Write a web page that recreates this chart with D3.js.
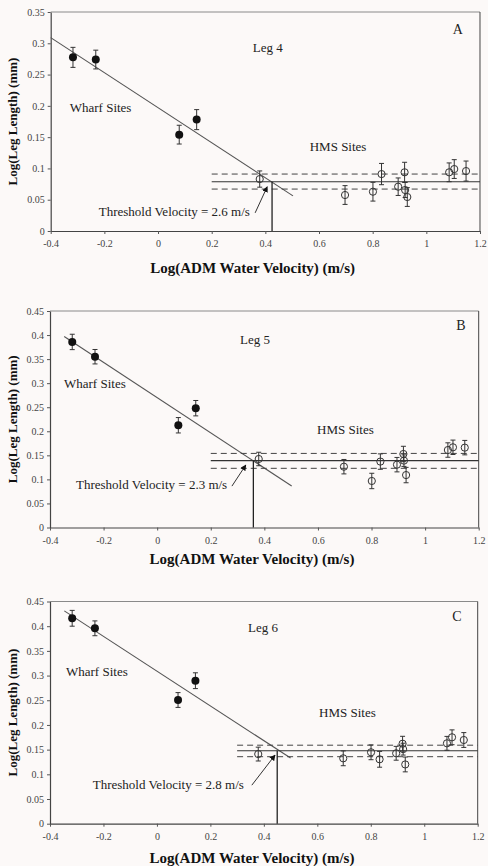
<!DOCTYPE html>
<html>
<head>
<meta charset="utf-8">
<script src="https://cdn.jsdelivr.net/npm/d3@7"></script>
<style>
  body { margin: 0; background: #fcf9f8; }
  text { font-family: 'Liberation Serif', 'Times New Roman', serif; }
</style>
</head>
<body>
<svg id="chart" width="488" height="866"></svg>
<script>
'use strict';

// shared x values (log water velocity) for the sites
let wharfX = [-0.317, -0.232, 0.079, 0.144];
let hmsX = [0.379, 0.697, 0.801, 0.833, 0.895, 0.919, 0.921, 0.929, 1.085, 1.104, 1.148];

let xTicks = [-0.4, -0.2, 0, 0.2, 0.4, 0.6, 0.8, 1, 1.2];
let xTickLabels = ['-0.4', '-0.2', '0', '0.2', '0.4', '0.6', '0.8', '1', '1.2'];
let yTicksA = [0, 0.05, 0.1, 0.15, 0.2, 0.25, 0.3, 0.35];
let yTicksBC = [0, 0.05, 0.1, 0.15, 0.2, 0.25, 0.3, 0.35, 0.4, 0.45];

// Leg 4
let leg4WharfY = [0.2775, 0.274, 0.154, 0.178];
let leg4WharfErr = [0.016, 0.015, 0.015, 0.016];
let leg4HmsY = [0.083, 0.0575, 0.0628, 0.091, 0.0708, 0.0938, 0.0655, 0.0543, 0.0938, 0.099, 0.0958];
let leg4HmsErr = [0.013, 0.015, 0.015, 0.017, 0.014, 0.016, 0.012, 0.015, 0.015, 0.015, 0.016];
let leg4Fit = [0.197, -0.28];           // intercept, slope
let leg4FitRange = [-0.4, 0.503];
let leg4Hms = [0.0788, 0.067, 0.091];   // mean, lower, upper
let leg4Threshold = 0.425;

// Leg 5
let leg5WharfY = [0.3857, 0.355, 0.2125, 0.248];
let leg5WharfErr = [0.016, 0.015, 0.016, 0.016];
let leg5HmsY = [0.1424, 0.1264, 0.0967, 0.137, 0.1306, 0.1528, 0.139, 0.109, 0.161, 0.1667, 0.166];
let leg5HmsErr = [0.014, 0.015, 0.016, 0.016, 0.015, 0.016, 0.012, 0.016, 0.015, 0.015, 0.015];
let leg5Fit = [0.27, -0.366];
let leg5FitRange = [-0.347, 0.502];
let leg5Hms = [0.139, 0.123, 0.154];
let leg5Threshold = 0.359;

// Leg 6
let leg6WharfY = [0.416, 0.3957, 0.2505, 0.2896];
let leg6WharfErr = [0.016, 0.015, 0.015, 0.016];
let leg6HmsY = [0.141, 0.1324, 0.1446, 0.1304, 0.1426, 0.162, 0.151, 0.120, 0.1628, 0.175, 0.1695];
let leg6HmsErr = [0.014, 0.015, 0.015, 0.016, 0.014, 0.015, 0.012, 0.015, 0.014, 0.015, 0.015];
let leg6Fit = [0.309, -0.352];
let leg6FitRange = [-0.3465, 0.5];
let leg6Hms = [0.1478, 0.1357, 0.159];
let leg6Threshold = 0.45;

let panels = [
    {
        box: [50.7, 12, 480, 231], yMax: 0.35, yTicks: yTicksA, titleGap: 39,
        wharfY: leg4WharfY, wharfErr: leg4WharfErr, hmsY: leg4HmsY, hmsErr: leg4HmsErr,
        fit: leg4Fit, fitRange: leg4FitRange, hms: leg4Hms, hmsStart: 0.2, threshold: leg4Threshold,
        leg: 'Leg 4', letter: 'A', thresholdText: 'Threshold Velocity = 2.6 m/s',
        // label offsets inside the plot box (px)
        legPos: [202, 40], letterPos: [407, 22], wharfPos: [19, 100], hmsPos: [259, 139], thrPos: [48, 204],
        arrow: [[0.362, 0.029], [0.407, 0.0708]]
    },
    {
        box: [50, 311, 478.7, 527.5], yMax: 0.45, yTicks: yTicksBC, titleGap: 33,
        wharfY: leg5WharfY, wharfErr: leg5WharfErr, hmsY: leg5HmsY, hmsErr: leg5HmsErr,
        fit: leg5Fit, fitRange: leg5FitRange, hms: leg5Hms, hmsStart: 0.2, threshold: leg5Threshold,
        leg: 'Leg 5', letter: 'B', thresholdText: 'Threshold Velocity = 2.3 m/s',
        legPos: [190, 33], letterPos: [411, 19], wharfPos: [14, 77], hmsPos: [267, 123], thrPos: [26, 178],
        arrow: [[0.279, 0.086], [0.331, 0.13]]
    },
    {
        box: [50, 601.5, 477.7, 823.7], yMax: 0.45, yTicks: yTicksBC, titleGap: 36,
        wharfY: leg6WharfY, wharfErr: leg6WharfErr, hmsY: leg6HmsY, hmsErr: leg6HmsErr,
        fit: leg6Fit, fitRange: leg6FitRange, hms: leg6Hms, hmsStart: 0.3, threshold: leg6Threshold,
        leg: 'Leg 6', letter: 'C', thresholdText: 'Threshold Velocity = 2.8 m/s',
        legPos: [198, 30.5], letterPos: [407, 19.5], wharfPos: [16, 74.5], hmsPos: [269, 115.5], thrPos: [42.7, 187.5],
        arrow: [[0.355, 0.078], [0.442, 0.139]]
    }
];

let svg = d3.select('#chart');

// arrow marker
svg.append('defs').append('marker')
    .attr('id', 'arrowhead')
    .attr('viewBox', '0 0 10 10')
    .attr('refX', 9)
    .attr('refY', 5)
    .attr('markerWidth', 6)
    .attr('markerHeight', 6)
    .attr('markerUnits', 'userSpaceOnUse')
    .attr('orient', 'auto')
    .append('path')
    .attr('d', 'M0,0 L10,5 L0,10 z')
    .attr('fill', '#111');

panels.forEach(function(p) {
    drawPanel(p);
});

/**
 * Draw one of the three scatter panels
 * @param {Object} p - panel config
 */
function drawPanel(p) {
    let left = p.box[0], top = p.box[1], right = p.box[2], bottom = p.box[3];
    let w = right - left, h = bottom - top;

    let x = d3.scaleLinear().domain([-0.4, 1.2]).range([0, w]);
    let y = d3.scaleLinear().domain([0, p.yMax]).range([h, 0]);

    let g = svg.append('g')
        .attr('transform', 'translate(' + left + ',' + top + ')');

    // frame top and right
    g.append('line').attr('x1', 0).attr('x2', w).attr('y1', 0).attr('y2', 0)
        .attr('stroke', '#8a8a8a').attr('stroke-width', 1);
    g.append('line').attr('x1', w).attr('x2', w).attr('y1', 0).attr('y2', h)
        .attr('stroke', '#444').attr('stroke-width', 1);

    let xAxis = d3.axisBottom(x)
        .tickValues(xTicks)
        .tickFormat(function(d, i) { return xTickLabels[i]; })
        .tickSizeInner(3)
        .tickSizeOuter(0)
        .tickPadding(6);
    let yAxis = d3.axisLeft(y)
        .tickValues(p.yTicks)
        .tickFormat(function(d) { return d3.format('')(+d.toFixed(2)); })
        .tickSizeInner(3)
        .tickSizeOuter(0)
        .tickPadding(3);

    let gx = g.append('g')
        .attr('transform', 'translate(0,' + h + ')')
        .call(xAxis);
    let gy = g.append('g').call(yAxis);

    [gx, gy].forEach(function(a) {
        a.select('.domain').attr('stroke', '#444').attr('stroke-width', 1.2);
        a.selectAll('.tick line').attr('stroke', '#555');
        a.selectAll('.tick text')
            .attr('fill', '#444')
            .style('font-size', '10px')
            .style('font-family', "'Liberation Serif', serif");
    });

    // axis titles
    g.append('text')
        .attr('x', 202)
        .attr('y', h + p.titleGap)
        .attr('text-anchor', 'middle')
        .attr('dominant-baseline', 'middle')
        .style('font-size', '15px')
        .style('font-weight', 'bold')
        .attr('fill', '#111')
        .text('Log(ADM Water Velocity) (m/s)');

    g.append('text')
        .attr('transform', 'translate(' + (14 - left) + ',' + (h / 2) + ') rotate(-90)')
        .attr('text-anchor', 'middle')
        .attr('dominant-baseline', 'middle')
        .style('font-size', '13px')
        .style('font-weight', 'bold')
        .attr('fill', '#111')
        .text('Log(Leg Length) (mm)');

    // regression line for wharf sites
    g.append('line')
        .attr('x1', x(p.fitRange[0]))
        .attr('y1', y(p.fit[0] + p.fit[1] * p.fitRange[0]))
        .attr('x2', x(p.fitRange[1]))
        .attr('y2', y(p.fit[0] + p.fit[1] * p.fitRange[1]))
        .attr('stroke', '#555')
        .attr('stroke-width', 1.1);

    // HMS mean line and confidence band
    g.append('line')
        .attr('x1', x(p.hmsStart)).attr('x2', x(1.2))
        .attr('y1', y(p.hms[0])).attr('y2', y(p.hms[0]))
        .attr('stroke', '#333').attr('stroke-width', 1.1);
    [p.hms[1], p.hms[2]].forEach(function(v) {
        g.append('line')
            .attr('x1', x(p.hmsStart)).attr('x2', x(1.2))
            .attr('y1', y(v)).attr('y2', y(v))
            .attr('stroke', '#444').attr('stroke-width', 1)
            .attr('stroke-dasharray', '6,4');
    });

    // threshold vertical
    g.append('line')
        .attr('x1', x(p.threshold)).attr('x2', x(p.threshold))
        .attr('y1', y(p.hms[0])).attr('y2', h)
        .attr('stroke', '#222').attr('stroke-width', 1.3);

    // arrow
    g.append('line')
        .attr('x1', x(p.arrow[0][0])).attr('y1', y(p.arrow[0][1]))
        .attr('x2', x(p.arrow[1][0])).attr('y2', y(p.arrow[1][1]))
        .attr('stroke', '#333').attr('stroke-width', 1)
        .attr('marker-end', 'url(#arrowhead)');

    // wharf points
    let wharf = p.wharfY.map(function(v, i) {
        return { x: wharfX[i], y: v, e: p.wharfErr[i] };
    });
    let hms = p.hmsY.map(function(v, i) {
        return { x: hmsX[i], y: v, e: p.hmsErr[i] };
    });

    drawErrorBars(g, wharf, x, y);
    drawErrorBars(g, hms, x, y);

    g.selectAll('circle.wharf')
        .data(wharf)
        .enter().append('circle')
        .attr('class', 'wharf')
        .attr('cx', function(d) { return x(d.x); })
        .attr('cy', function(d) { return y(d.y); })
        .attr('r', 4)
        .attr('fill', '#111');

    g.selectAll('circle.hms')
        .data(hms)
        .enter().append('circle')
        .attr('class', 'hms')
        .attr('cx', function(d) { return x(d.x); })
        .attr('cy', function(d) { return y(d.y); })
        .attr('r', 3.6)
        .attr('fill', 'none')
        .attr('stroke', '#333')
        .attr('stroke-width', 1);

    // labels
    addLabel(g, p.leg, p.legPos, 'start', '13px');
    addLabel(g, p.letter, p.letterPos, 'middle', '14px');
    addLabel(g, 'Wharf Sites', p.wharfPos, 'start', '13px');
    addLabel(g, 'HMS Sites', p.hmsPos, 'start', '13px');
    addLabel(g, p.thresholdText, p.thrPos, 'start', '13px');
}

function drawErrorBars(g, pts, x, y) {
    let bars = g.append('g');
    pts.forEach(function(d) {
        let cx = x(d.x);
        bars.append('line')
            .attr('x1', cx).attr('x2', cx)
            .attr('y1', y(d.y - d.e)).attr('y2', y(d.y + d.e))
            .attr('stroke', '#333').attr('stroke-width', 1);
        [d.y - d.e, d.y + d.e].forEach(function(v) {
            bars.append('line')
                .attr('x1', cx - 2.5).attr('x2', cx + 2.5)
                .attr('y1', y(v)).attr('y2', y(v))
                .attr('stroke', '#333').attr('stroke-width', 1);
        });
    });
}

function addLabel(g, txt, pos, anchor, size) {
    g.append('text')
        .attr('x', pos[0])
        .attr('y', pos[1])
        .attr('text-anchor', anchor)
        .style('font-size', size)
        .attr('fill', '#222')
        .text(txt);
}
</script>
</body>
</html>
